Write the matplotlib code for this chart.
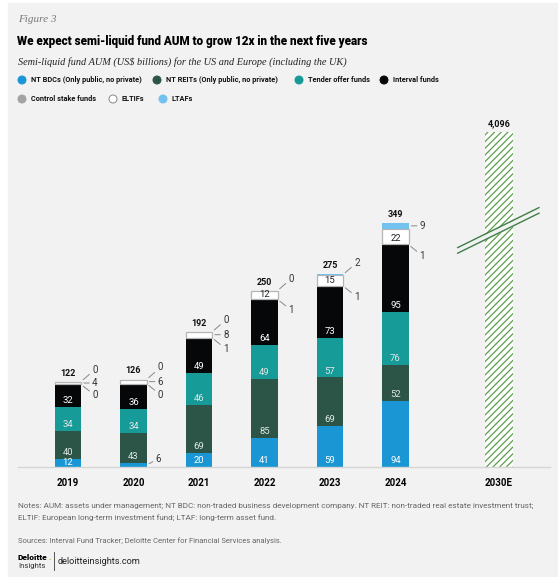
import matplotlib.pyplot as plt
from matplotlib.lines import Line2D
from matplotlib.patches import Rectangle, Circle

# ---- data (US$ billions) ----
years = ['2019', '2020', '2021', '2022', '2023', '2024']
nt_bdcs = [12, 6, 20, 41, 59, 94]
nt_reits = [40, 43, 69, 85, 69, 52]
tender_offer = [34, 34, 46, 49, 57, 76]
interval_funds = [32, 36, 49, 64, 73, 95]
control_stake = [0, 0, 1, 1, 1, 1]
eltifs = [4, 6, 8, 12, 15, 22]
ltafs = [0, 0, 0, 0, 2, 9]
totals = [122, 126, 192, 250, 275, 349]

forecast_label = '2030E'
forecast_total = 4096

series_names = ['NT BDCs (Only public, no private)', 'NT REITs (Only public, no private)',
                'Tender offer funds', 'Interval funds', 'Control stake funds', 'ELTIFs', 'LTAFs']
series_values = [nt_bdcs, nt_reits, tender_offer, interval_funds, control_stake, eltifs, ltafs]
series_colors = ['#1a96d5', '#2c5548', '#179b98', '#050708', '#a3a3a3', '#ffffff', '#72c1ee']

BG = '#f2f2f2'
W, H = 558, 577
fig = plt.figure(figsize=(W / 100, H / 100), dpi=100)

# overlay in pixel coordinates for panel, titles, legend, footer
bg = fig.add_axes([0, 0, 1, 1])
bg.set_xlim(0, W)
bg.set_ylim(H, 0)
bg.axis('off')
bg.add_patch(Rectangle((8, 3), W - 8, H - 3, color=BG, zorder=0))

bg.text(18, 20, 'Figure 3', fontsize=8, style='italic', family='Liberation Serif', color='#777777', va='center')
bg.text(17, 41, 'We expect semi-liquid fund AUM to grow 12x in the next five years', fontsize=8.4,
        fontweight='heavy', family='Roboto', color='#000000', va='center')
bg.text(18, 62, 'Semi-liquid fund AUM (US$ billions) for the US and Europe (including the UK)', fontsize=7.4,
        style='italic', family='Liberation Serif', color='#222222', va='center')

legend_pos = [(22, 80), (157, 80), (299, 80), (384, 80), (22, 99), (113, 99), (163, 99)]
for (lx, ly), name, col in zip(legend_pos, series_names, series_colors):
    ec = '#888888' if col == '#ffffff' else col
    bg.add_patch(Circle((lx, ly), 4, facecolor=col, edgecolor=ec, lw=0.7, zorder=3))
    bg.text(lx + 9, ly, name, fontsize=5.3, fontweight='bold', family='Roboto', va='center', color='#111111')

notes = ('Notes: AUM: assets under management; NT BDC: non-traded business development company. '
         'NT REIT: non-traded real estate investment trust;\nELTIF: European long-term investment fund; '
         'LTAF: long-term asset fund.')
bg.text(18, 512, notes, fontsize=5.85, family='Roboto', color='#666666', va='center', linespacing=1.8)
bg.text(18, 541, 'Sources: Interval Fund Tracker; Deloitte Center for Financial Services analysis.',
        fontsize=5.5, family='Roboto', color='#666666', va='center')
bg.text(18, 557, 'Deloitte', fontsize=6, fontweight='heavy', family='Roboto', color='#000000', va='center')
bg.text(48.5, 557, '.', fontsize=6, fontweight='heavy', family='Roboto', color='#86bc25', va='center')
bg.text(18, 566, 'Insights', fontsize=5.6, family='Roboto', color='#333333', va='center')
bg.add_artist(Line2D([54, 54], [552, 570], color='#555555', lw=0.7))
bg.text(58, 561, 'deloitteinsights.com', fontsize=6.6, family='Roboto', color='#222222', va='center')

# ---- chart ----
scale = 0.70                 # px per US$ bn
base_px, top_px = 467, 120
left_px, right_px = 18, 550
ax = fig.add_axes([left_px / W, (H - base_px) / H, (right_px - left_px) / W, (base_px - top_px) / H])
ax.patch.set_alpha(0)
ax.set_ylim(0, (base_px - top_px) / scale)

x = list(range(len(years)))
x_fc = 6.58
step_px = 65.5
x0 = -(68 - left_px) / step_px
ax.set_xlim(x0, x0 + (right_px - left_px) / step_px)
bw = 0.40

bottoms = [0] * len(years)
for name, vals, col in zip(series_names, series_values, series_colors):
    ec = '#b5b5b5' if col == '#ffffff' else col
    lw = 0.9 if col == '#ffffff' else 0
    ax.bar(x, vals, bw, bottom=bottoms, color=col, edgecolor=ec, linewidth=lw, zorder=2)
    for i, v in enumerate(vals):
        b = bottoms[i]
        if v >= 10:
            tc = '#222222' if col == '#ffffff' else ('#ffffff' if name in (series_names[0], series_names[3]) else '#dfe8e6')
            ty = b + min(9, v / 2)
            ax.text(x[i], ty, str(v), ha='center', va='center', fontsize=6.8, family='Roboto', color=tc, zorder=4)
        else:
            # callout with leader line to the right
            if name == series_names[4]:
                dx, dy = 8, -11
            elif name == series_names[5]:
                dx, dy = 8, 0
            elif name == series_names[6]:
                dx, dy = (8, 0) if v >= 5 else (8, 12)
            else:
                dx, dy = 6, 6
            ay = b + v / 2
            ax.annotate(str(v), xy=(x[i] + bw / 2, ay), xytext=(dx + 3, dy), textcoords='offset pixels',
                        ha='left', va='center', fontsize=7, family='Roboto', color='#333333',
                        arrowprops=dict(arrowstyle='-', color='#888888', lw=0.7, shrinkA=0, shrinkB=2),
                        annotation_clip=False, zorder=4)
    bottoms = [b + v for b, v in zip(bottoms, vals)]

for i, t in enumerate(totals):
    ax.annotate(str(t), xy=(x[i], max(t, bottoms[i])), xytext=(0, 4), textcoords='offset pixels',
                ha='center', va='bottom', fontsize=6.5, fontweight='bold', family='Roboto', color='#111111')

# forecast bar on a broken axis: drawn to a capped display height
fc_display = (base_px - 132) / scale
plt.rcParams['hatch.linewidth'] = 0.9
ax.bar([x_fc], [fc_display], 0.44, color='#ffffff', edgecolor='#5c9e4c', hatch='/////', linewidth=0, zorder=2)
ax.annotate(f'{forecast_total:,}', xy=(x_fc, fc_display), xytext=(0, 4), textcoords='offset pixels',
            ha='center', va='bottom', fontsize=6.5, fontweight='bold', family='Roboto', color='#111111')

# break marks
bx = [5.94, 7.2]
by1 = [313, 371]
by2 = [305, 363]
ax.fill_between(bx, by2, by1, color=BG, zorder=5, lw=0)
ax.plot(bx, by1, color='#3e7f46', lw=1.0, zorder=6, solid_capstyle='butt')
ax.plot(bx, by2, color='#3e7f46', lw=1.0, zorder=6, solid_capstyle='butt')

ax.set_xticks(x + [x_fc])
ax.set_xticklabels(years + [forecast_label], fontsize=7, fontweight='bold', family='Roboto')
ax.tick_params(axis='x', length=0, pad=8)
ax.set_yticks([])
for s in ['top', 'right', 'left']:
    ax.spines[s].set_visible(False)
ax.spines['bottom'].set_color('#d5d5d5')
ax.spines['bottom'].set_linewidth(1.0)

fig.savefig('out.png', dpi=100)
